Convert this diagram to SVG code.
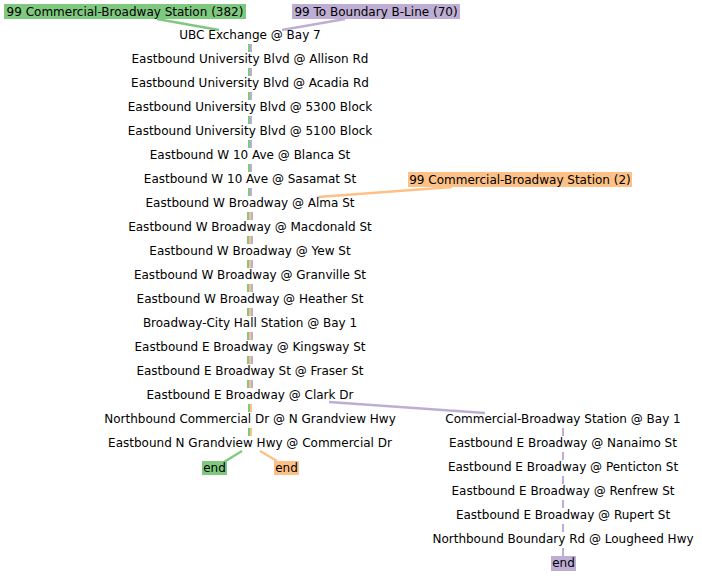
<svg xmlns="http://www.w3.org/2000/svg" width="702" height="576" viewBox="0 0 702 576">
<style>
text{font-family:"DejaVu Sans",sans-serif;font-size:12px;fill:#000;text-anchor:middle}
.g{stroke:#7fc97f}.p{stroke:#beaed4}.o{stroke:#fdc086}
.c line{stroke-width:2.3;fill:none}
.c .v line{stroke-width:2}
.rg{fill:#7fc97f}.rp{fill:#beaed4}.ro{fill:#fdc086}
</style>
<rect width="702" height="576" fill="#fff"/>
<g id="connectors" class="c">
<line class="g" x1="157" y1="19" x2="219" y2="30"/>
<line class="p" x1="345" y1="19" x2="282" y2="30"/>
<line class="o" x1="452" y1="187" x2="318" y2="197"/>
<line class="p" x1="329" y1="402" x2="485" y2="413"/>
<line class="g" x1="242" y1="451" x2="224" y2="462"/>
<line class="o" x1="260" y1="451" x2="277" y2="461"/>
<g class="v">
<line class="g" x1="249" y1="44" x2="249" y2="52"/><line class="p" x1="251" y1="44" x2="251" y2="52"/>
<line class="g" x1="249" y1="68" x2="249" y2="76"/><line class="p" x1="251" y1="68" x2="251" y2="76"/>
<line class="g" x1="249" y1="92" x2="249" y2="100"/><line class="p" x1="251" y1="92" x2="251" y2="100"/>
<line class="g" x1="249" y1="116" x2="249" y2="124"/><line class="p" x1="251" y1="116" x2="251" y2="124"/>
<line class="g" x1="249" y1="140" x2="249" y2="148"/><line class="p" x1="251" y1="140" x2="251" y2="148"/>
<line class="g" x1="249" y1="164" x2="249" y2="172"/><line class="p" x1="251" y1="164" x2="251" y2="172"/>
<line class="g" x1="249" y1="188" x2="249" y2="196"/><line class="p" x1="251" y1="188" x2="251" y2="196"/>
</g>
<g class="v">
<line class="g" x1="248" y1="212" x2="248" y2="220"/><line class="o" x1="250" y1="212" x2="250" y2="220"/><line class="p" x1="252" y1="212" x2="252" y2="220"/>
<line class="g" x1="248" y1="236" x2="248" y2="244"/><line class="o" x1="250" y1="236" x2="250" y2="244"/><line class="p" x1="252" y1="236" x2="252" y2="244"/>
<line class="g" x1="248" y1="260" x2="248" y2="268"/><line class="o" x1="250" y1="260" x2="250" y2="268"/><line class="p" x1="252" y1="260" x2="252" y2="268"/>
<line class="g" x1="248" y1="284" x2="248" y2="292"/><line class="o" x1="250" y1="284" x2="250" y2="292"/><line class="p" x1="252" y1="284" x2="252" y2="292"/>
<line class="g" x1="248" y1="308" x2="248" y2="316"/><line class="o" x1="250" y1="308" x2="250" y2="316"/><line class="p" x1="252" y1="308" x2="252" y2="316"/>
<line class="g" x1="248" y1="332" x2="248" y2="340"/><line class="o" x1="250" y1="332" x2="250" y2="340"/><line class="p" x1="252" y1="332" x2="252" y2="340"/>
<line class="g" x1="248" y1="356" x2="248" y2="364"/><line class="o" x1="250" y1="356" x2="250" y2="364"/><line class="p" x1="252" y1="356" x2="252" y2="364"/>
<line class="g" x1="248" y1="380" x2="248" y2="388"/><line class="o" x1="250" y1="380" x2="250" y2="388"/><line class="p" x1="252" y1="380" x2="252" y2="388"/>
</g>
<g class="v">
<line class="g" x1="249" y1="404" x2="249" y2="412"/><line class="o" x1="251" y1="404" x2="251" y2="412"/>
<line class="g" x1="249" y1="428" x2="249" y2="436"/><line class="o" x1="251" y1="428" x2="251" y2="436"/>
</g>
<g class="v">
<line class="p" x1="563" y1="428" x2="563" y2="436"/>
<line class="p" x1="563" y1="452" x2="563" y2="460"/>
<line class="p" x1="563" y1="476" x2="563" y2="484"/>
<line class="p" x1="563" y1="500" x2="563" y2="508"/>
<line class="p" x1="563" y1="524" x2="563" y2="532"/>
<line class="p" x1="563" y1="548" x2="563" y2="556"/>
</g>
</g>
<g id="route-green"><rect class="rg" x="4" y="4" width="242" height="15"/><text x="125" y="15.5">99 Commercial-Broadway Station (382)</text></g>
<g id="route-purple"><rect class="rp" x="292" y="4" width="168" height="15"/><text x="376" y="15.5">99 To Boundary B-Line (70)</text></g>
<g id="route-orange"><rect class="ro" x="408" y="172" width="224" height="15"/><text x="520" y="183.5">99 Commercial-Broadway Station (2)</text></g>
<g id="s0"><text x="250" y="39">UBC Exchange @ Bay 7</text></g>
<g id="s1"><text x="250" y="63">Eastbound University Blvd @ Allison Rd</text></g>
<g id="s2"><text x="250" y="87">Eastbound University Blvd @ Acadia Rd</text></g>
<g id="s3"><text x="250" y="111">Eastbound University Blvd @ 5300 Block</text></g>
<g id="s4"><text x="250" y="135">Eastbound University Blvd @ 5100 Block</text></g>
<g id="s5"><text x="250" y="159">Eastbound W 10 Ave @ Blanca St</text></g>
<g id="s6"><text x="250" y="183">Eastbound W 10 Ave @ Sasamat St</text></g>
<g id="s7"><text x="250" y="207">Eastbound W Broadway @ Alma St</text></g>
<g id="s8"><text x="250" y="231">Eastbound W Broadway @ Macdonald St</text></g>
<g id="s9"><text x="250" y="255">Eastbound W Broadway @ Yew St</text></g>
<g id="s10"><text x="250" y="279">Eastbound W Broadway @ Granville St</text></g>
<g id="s11"><text x="250" y="303">Eastbound W Broadway @ Heather St</text></g>
<g id="s12"><text x="250" y="327">Broadway-City Hall Station @ Bay 1</text></g>
<g id="s13"><text x="250" y="351">Eastbound E Broadway @ Kingsway St</text></g>
<g id="s14"><text x="250" y="375">Eastbound E Broadway St @ Fraser St</text></g>
<g id="s15"><text x="250" y="399">Eastbound E Broadway @ Clark Dr</text></g>
<g id="s16"><text x="250" y="423">Northbound Commercial Dr @ N Grandview Hwy</text></g>
<g id="s17"><text x="250" y="447">Eastbound N Grandview Hwy @ Commercial Dr</text></g>
<g id="end-green"><rect class="rg" x="202" y="461" width="25" height="14"/><text x="214.5" y="471.5">end</text></g>
<g id="end-orange"><rect class="ro" x="274" y="461" width="25" height="14"/><text x="286.5" y="471.5">end</text></g>
<g id="r16"><text x="563" y="423">Commercial-Broadway Station @ Bay 1</text></g>
<g id="r17"><text x="563" y="447">Eastbound E Broadway @ Nanaimo St</text></g>
<g id="r18"><text x="563" y="471">Eastbound E Broadway @ Penticton St</text></g>
<g id="r19"><text x="563" y="495">Eastbound E Broadway @ Renfrew St</text></g>
<g id="r20"><text x="563" y="519">Eastbound E Broadway @ Rupert St</text></g>
<g id="r21"><text x="563" y="543">Northbound Boundary Rd @ Lougheed Hwy</text></g>
<g id="end-purple"><rect class="rp" x="551" y="556" width="25" height="15"/><text x="563.5" y="567">end</text></g>
</svg>
